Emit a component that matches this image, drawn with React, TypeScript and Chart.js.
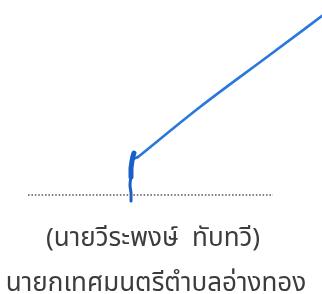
import React, { useEffect, useRef } from "react";
import { Chart, registerables } from "chart.js";

Chart.register(...registerables);

// Signature stroke (values on a 0..322 x 0..294 page scale, y downward)
const sigTailX = [131, 131, 130, 131];
const sigTailY = [201, 193, 185, 176];
const sigBlobX = [131, 131, 132, 133, 134];
const sigBlobY = [177, 168, 161, 156, 153];
const sigLinkX = [133, 138];
const sigLinkY = [159, 157];
const sigMainX = [138, 200, 267, 326];
const sigMainY = [157, 107, 57, 13];

// Dotted signing line
const dotLineX = [28, 273];
const dotLineY = [195, 195];

// Caption texts
const captionLines = ["(นายวีระพงษ์  ทับทวี)", "นายกเทศมนตรีตำบลอ่างทอง"];
const captionX = [153, 156];
const captionY = [241, 286];

const toPts = (xs: number[], ys: number[]) => xs.map((x, i) => ({ x, y: ys[i] }));

export default function App() {
  const ref = useRef<HTMLCanvasElement | null>(null);
  useEffect(() => {
    document.body.style.margin = "0";
    const captionPlugin = {
      id: "captions",
      afterDatasetsDraw(chart: any) {
        const { ctx, scales } = chart;
        ctx.save();
        ctx.fillStyle = "#3c3c3c";
        ctx.textAlign = "center";
        ctx.textBaseline = "middle";
        ctx.font = '26px "Noto Sans Thai", "Noto Sans", "DejaVu Sans", sans-serif';
        captionLines.forEach((t, i) => {
          ctx.fillText(t, scales.x.getPixelForValue(captionX[i]), scales.y.getPixelForValue(captionY[i]));
        });
        ctx.restore();
      },
    };
    const blue = "#1f6fd6";
    const chart = new Chart(ref.current!, {
      type: "scatter",
      data: {
        datasets: [
          {
            data: toPts(dotLineX, dotLineY),
            showLine: true,
            borderColor: "#5a5a5a",
            borderWidth: 1.6,
            borderDash: [1.6, 1.8],
            pointRadius: 0,
          },
          {
            data: toPts(sigTailX, sigTailY),
            showLine: true,
            borderColor: "#1a5fc8",
            borderWidth: 3,
            tension: 0.3,
            pointRadius: 0,
            borderCapStyle: "round",
          },
          {
            data: toPts(sigBlobX, sigBlobY),
            showLine: true,
            borderColor: "#1a5fc8",
            borderWidth: 5,
            tension: 0,
            pointRadius: 0,
            borderCapStyle: "round",
            borderJoinStyle: "round",
          },
          {
            data: toPts(sigLinkX, sigLinkY),
            showLine: true,
            borderColor: blue,
            borderWidth: 2.6,
            pointRadius: 0,
            borderCapStyle: "round",
          },
          {
            data: toPts(sigMainX, sigMainY),
            showLine: true,
            borderColor: "#2a78dc",
            borderWidth: 2.6,
            cubicInterpolationMode: "monotone",
            pointRadius: 0,
            borderCapStyle: "round",
          },
        ],
      },
      options: {
        animation: false,
        responsive: false,
        layout: { padding: 0 },
        plugins: { legend: { display: false }, tooltip: { enabled: false }, title: { display: false } },
        scales: {
          x: { type: "linear", min: 0, max: 322, display: false },
          y: { type: "linear", min: 0, max: 294, reverse: true, display: false },
        },
      },
      plugins: [captionPlugin],
    });
    return () => chart.destroy();
  }, []);
  return (
    <div style={{ width: 322, height: 294, background: "#fff" }}>
      <canvas ref={ref} width={322} height={294} />
    </div>
  );
}
